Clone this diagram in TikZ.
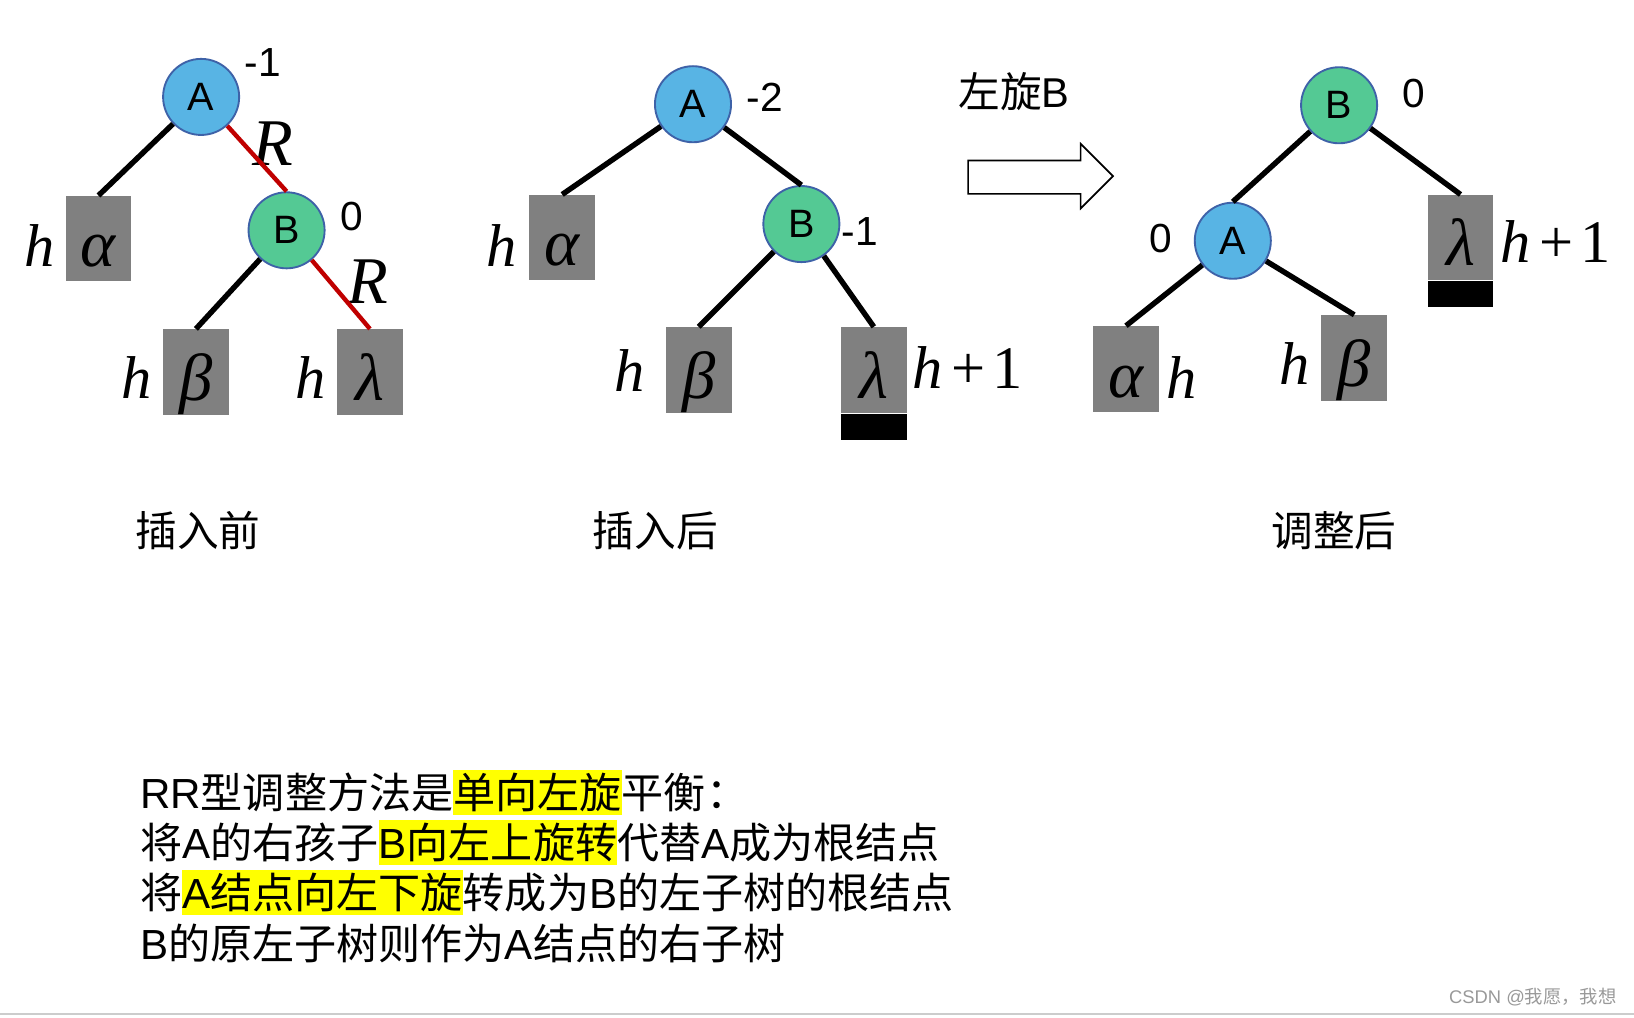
\documentclass[tikz,border=0pt]{standalone}
\usepackage{fontspec}
\setmainfont{Liberation Sans}
\newfontfamily\cjk{Noto Sans CJK SC}
\newfontfamily\tnr{Liberation Serif}
\usetikzlibrary{positioning}

\definecolor{nodeA}{RGB}{88,180,228}
\definecolor{nodeB}{RGB}{84,201,148}
\definecolor{ring}{RGB}{62,98,168}
\definecolor{subtree}{RGB}{128,128,128}
\definecolor{redge}{RGB}{192,0,0}
\definecolor{marker}{RGB}{255,255,0}

\newcommand\zh[1]{{\cjk #1}}
\newcommand\mi[1]{{\tnr\itshape #1}}
\newcommand\hpo{\mi{h}\kern.14em{\tnr+\kern.12em1}}
\newcommand\hlt[1]{{\setlength\fboxsep{0pt}\colorbox{marker}{\rule[-0.15em]{0pt}{1.08em}#1}}}

\begin{document}
\begin{tikzpicture}[
    x=0.5pt, y=-0.5pt,
    V/.style = {circle, draw=ring, line width=0.9pt, minimum size=36.5pt, inner sep=0pt, font=\fontsize{19}{19}\selectfont},
    VA/.style = {V, fill=nodeA},
    VB/.style = {V, fill=nodeB},
    T/.style = {rectangle, fill=subtree, minimum width=31.5pt, minimum height=41pt, text height=34pt, text depth=7pt,
                inner sep=0pt, font=\fontsize{32}{32}\selectfont\tnr\itshape},
    bar/.style = {rectangle, fill=black, minimum width=31.5pt, minimum height=12.5pt, inner sep=0pt},
    bf/.style = {inner sep=0pt, font=\fontsize{19.5}{19.5}\selectfont},
    ht/.style = {inner sep=0pt, font=\fontsize{29}{29}\selectfont},
    rl/.style = {inner sep=0pt, font=\fontsize{32}{32}\selectfont\tnr\itshape},
    captxt/.style = {inner sep=0pt, font=\fontsize{20}{20}\selectfont\cjk},
    txt/.style = {inner sep=0pt, anchor=base west, font=\fontsize{20.2}{24}\selectfont}
    ]
    \fill[white] (0,0) rectangle (1568,976);
    \useasboundingbox (0,0) rectangle (1568,976);
    % before insertion
    \node[VA] (A1) at (193,93) {A};
    \node[VB] (B1) at (275,221) {B};
    \node[T] (al1) at (94.5,229) {α};
    \node[T] (be1) at (188,357) {β};
    \node[T] (la1) at (355,357) {λ};
    \node[bf] (fA1) at (252,60) {-1};
    \node[bf] (fB1) at (338,208) {0};
    \node[ht] (h1a) at (38,236) {\mi{h}};
    \node[ht] (h1b) at (131,362) {\mi{h}};
    \node[ht] (h1l) at (298,362) {\mi{h}};
    \node[rl] (R1) at (262,138) {R};
    \node[rl] (R2) at (353,270) {R};
    \begin{scope}[line width=2.6pt]
        \draw (A1) -- (al1.north);
        \draw (B1) -- (be1.north);
    \end{scope}
    \begin{scope}[line width=2.1pt, redge]
        \draw (A1) -- (B1.north);
        \draw (B1) -- (la1.north);
    \end{scope}
    % after insertion
    \node[VA] (A2) at (665,100) {A};
    \node[VB] (B2) at (769,215) {B};
    \node[T] (al2) at (539.5,228) {α};
    \node[T] (be2) at (670.5,355) {β};
    \node[T] (la2) at (838.5,355) {λ};
    \node[bar, below=0pt of la2] (bar2) {};
    \node[bf] (fA2) at (734,93) {-2};
    \node[bf] (fB2) at (825,222) {-1};
    \node[ht] (h2a) at (481,236) {\mi{h}};
    \node[ht] (h2b) at (604,356) {\mi{h}};
    \node[ht] (h2l) at (929,353) {\hpo};
    \begin{scope}[line width=2.6pt]
        \draw (A2) -- (al2.north);
        \draw (A2) -- (B2.north);
        \draw (B2) -- (be2.north);
        \draw (B2) -- (la2.north);
    \end{scope}
    % rotation arrow
    \draw[line width=0.8pt, fill=white] (929,154) -- (1037,154) -- (1037,138) -- (1068,169)
        -- (1037,200) -- (1037,186) -- (929,186) -- cycle;
    \node[captxt] (rot) at (973,88) {左旋{\rmfamily B}};
    % after adjustment
    \node[VB] (B3) at (1285,101) {B};
    \node[VA] (A3) at (1183,231) {A};
    \node[T] (la3) at (1401.5,228) {λ};
    \node[bar, below=0pt of la3] (bar3) {};
    \node[T] (al3) at (1080.5,354) {α};
    \node[T] (be3) at (1299.5,343.5) {β};
    \node[bf] (fB3) at (1357,90) {0};
    \node[bf] (fA3) at (1114,229) {0};
    \node[ht] (h3l) at (1493,232) {\hpo};
    \node[ht] (h3a) at (1134,362) {\mi{h}};
    \node[ht] (h3b) at (1242,349) {\mi{h}};
    \begin{scope}[line width=2.6pt]
        \draw (B3) -- (A3.north);
        \draw (B3) -- (la3.north);
        \draw (A3) -- (al3.north);
        \draw (A3) -- (be3.north);
    \end{scope}
    % captions
    \node[captxt] (c1) at (190,509) {插入前};
    \node[captxt] (c2) at (629,509) {插入后};
    \node[captxt] (c3) at (1280,509) {调整后};
    % explanation
    \node[txt] (rr1) at (134,776) {RR\zh{型调整方法是}\hlt{\zh{单向左旋}}\zh{平衡：}};
    \node[txt] (rr2) at (134,824) {\zh{将}A\zh{的右孩子}\hlt{B\zh{向左上旋转}}\zh{代替}A\zh{成为根结点}};
    \node[txt] (rr3) at (134,872) {\zh{将}\hlt{A\zh{结点向左下旋}}\zh{转成为}B\zh{的左子树的根结点}};
    \node[txt] (rr4) at (134,921) {B\zh{的原左子树则作为}A\zh{结点的右子树}};
    % watermark
    \node[inner sep=0pt, text=black!40, font=\fontsize{8.8}{9}\selectfont] (mark) at (1471,957) {CSDN @\zh{我愿，我想}};
    \draw[black!20, line width=0.75pt] (0,973) -- (1568,973);
\end{tikzpicture}
\end{document}
